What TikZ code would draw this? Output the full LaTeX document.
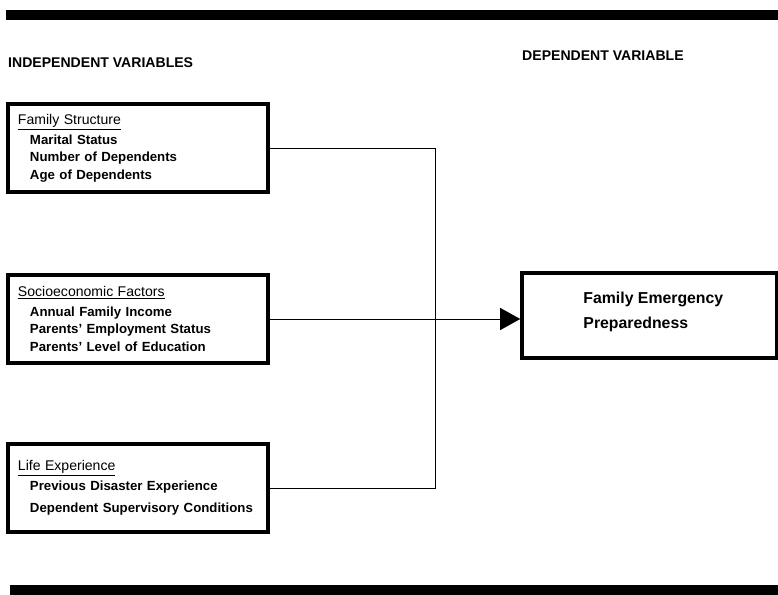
\documentclass[tikz,border=0pt]{standalone}
\usepackage{fontspec}
\setmainfont{Liberation Sans}
\usetikzlibrary{arrows.meta}
\tikzset{
  varbox/.style={draw, line width=3pt, minimum width=7.8cm, minimum height=2.64cm,
                 inner xsep=0.3cm, text width=7.2cm, align=left,
                 font=\bfseries\fontsize{11.3}{14.9}\selectfont},
  depbox/.style={draw, line width=3pt, minimum width=7.65cm, minimum height=2.55cm},
  deptext/.style={anchor=west, inner sep=0pt, align=left,
                  font=\bfseries\fontsize{13.5}{21.3}\selectfont},
  colhead/.style={anchor=west, inner sep=0pt, font=\bfseries\fontsize{12}{14}\selectfont},
  link/.style={line width=0.8pt},
}
\newcommand{\boxhead}[1]{{\mdseries\fontsize{12}{14}\selectfont\underline{#1}}\\[2pt]}
\newcommand{\boxitem}[1]{\hspace*{0.36cm}#1}

\begin{document}
\begin{tikzpicture}[x=0.03cm, y=-0.03cm]
    \useasboundingbox (0,0) rectangle (778,595);
    \fill[black] (6,10) rectangle (778,20);
    \fill[black] (10,585) rectangle (778,595);
    \node[colhead] (indep) at (8,63) {INDEPENDENT VARIABLES};
    \node[colhead] (deph) at (522,56) {DEPENDENT VARIABLE};
    \node[varbox] (fam) at (138,148) {\boxhead{Family Structure}
      \boxitem{Marital Status}\\\boxitem{Number of Dependents}\\\boxitem{Age of Dependents}};
    \node[varbox] (socio) at (138,319) {\boxhead{Socioeconomic Factors}
      \boxitem{Annual Family Income}\\\boxitem{Parents' Employment Status}\\\boxitem{Parents' Level of Education}};
    \node[varbox] (life) at (138,488) {\boxhead{Life Experience}
      \boxitem{Previous Disaster Experience}\\[4pt]\boxitem{Dependent Supervisory Conditions}};
    \node[depbox] (dep) at (649.5,315.5) {};
    \node[deptext] (deplabel) at ([xshift=1.89cm, yshift=0.1cm]dep.west) {Family Emergency\\Preparedness};
    \coordinate (spine) at (435,0);
    \draw[link] (fam.east) -- (fam.east -| spine) -- (life.east -| spine) -- (life.east);
    \draw[link, -{Triangle[length=0.6cm, width=0.66cm]}] (socio.east) -- (socio.east -| dep.west);
  \end{tikzpicture}
\end{document}
